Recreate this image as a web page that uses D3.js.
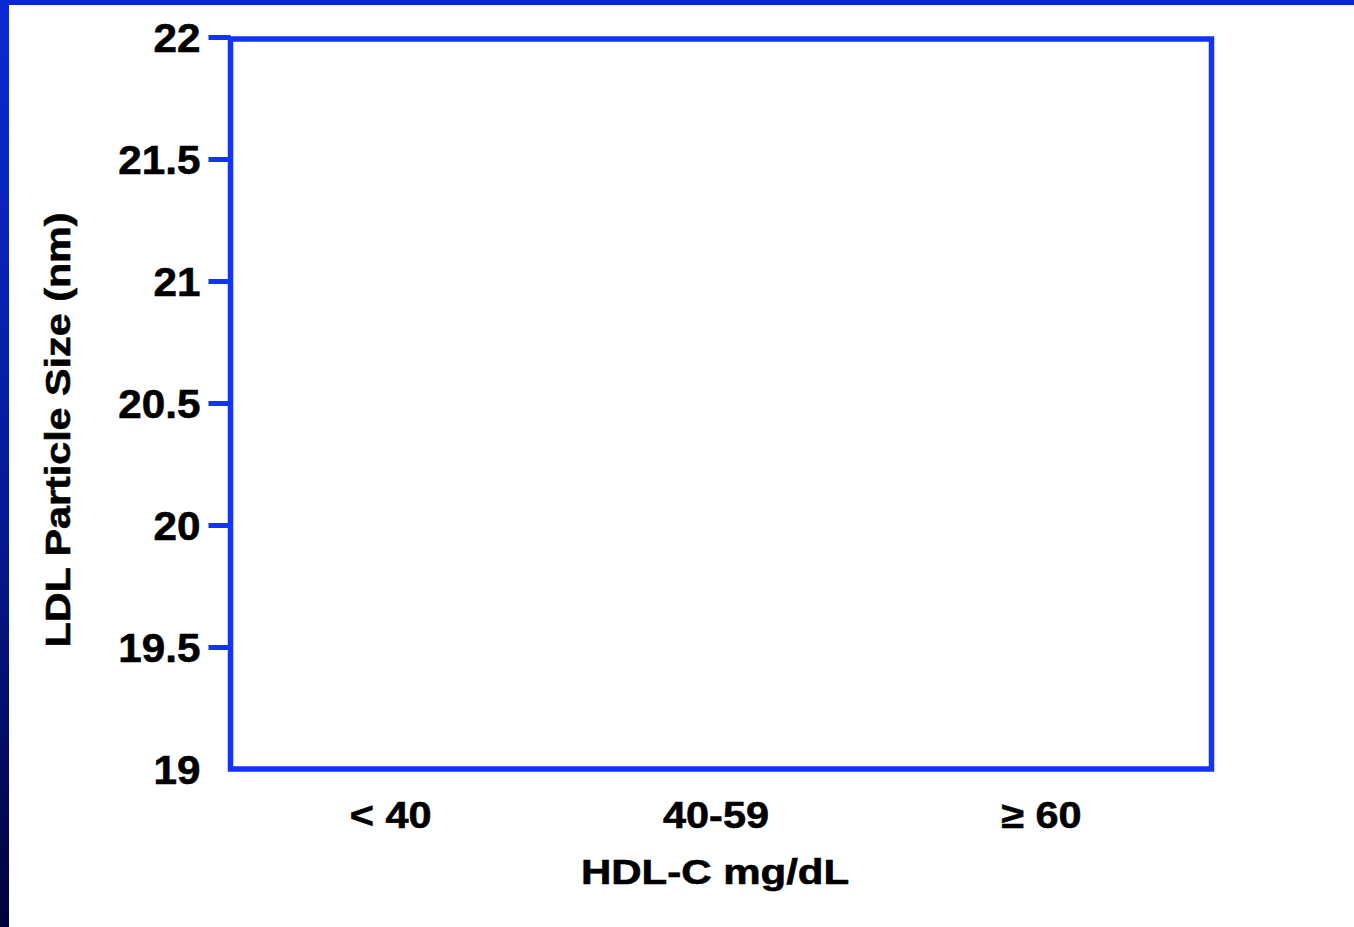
<!DOCTYPE html>
<html>
<head>
<meta charset="utf-8">
<script src="https://cdn.jsdelivr.net/npm/d3@7"></script>
<style>
html,body{margin:0;padding:0;background:#fff;}
svg{display:block;}
text{font-family:"Liberation Sans",Arial,Helvetica,sans-serif;font-weight:bold;fill:#000;stroke:#000;stroke-width:0.6px;}
</style>
</head>
<body>
<svg id="chart" width="1354" height="927"></svg>
<script>
const categories = ["< 40", "40-59", "\u2265 60"];
const yTicks = [19, 19.5, 20, 20.5, 21, 21.5, 22];
const yTickLabels = ["19", "19.5", "20", "20.5", "21", "21.5", "22"];
const yDomain = [19, 22];
const xTitle = "HDL-C mg/dL";
const yTitle = "LDL Particle Size (nm)";

const svg = d3.select("#chart");
const W = 1354, H = 927;
const frame = {left: 230.5, right: 1211.5, top: 39, bottom: 769};
const blue = "#1233ff";

// slide decoration
const defs = svg.append("defs");
const grad = defs.append("linearGradient").attr("id", "lg").attr("x1", 0).attr("y1", 0).attr("x2", 0).attr("y2", 1);
grad.append("stop").attr("offset", "0%").attr("stop-color", "#0a2ad6");
grad.append("stop").attr("offset", "55%").attr("stop-color", "#051a98");
grad.append("stop").attr("offset", "100%").attr("stop-color", "#00023a");
svg.append("rect").attr("x", 0).attr("y", 0).attr("width", W).attr("height", 5).attr("fill", "#0828d8");
svg.append("rect").attr("x", 0).attr("y", 0).attr("width", 9).attr("height", H).attr("fill", "url(#lg)");

const y = d3.scaleLinear().domain(yDomain).range([frame.bottom, 37]);
const x = d3.scaleBand().domain(categories).range([228, 1204]);

// y axis ticks
const yAxis = d3.axisLeft(y).tickValues(yTicks)
  .tickFormat((d, i) => yTickLabels[i]).tickSize(22).tickPadding(0).tickSizeOuter(0);
const gy = svg.append("g").attr("transform", `translate(${frame.left},0)`).call(yAxis);
gy.select(".domain").remove();
gy.selectAll(".tick line").attr("stroke", blue).attr("stroke-width", 5)
  .attr("display", d => d === yDomain[0] ? "none" : null);
gy.selectAll(".tick text").attr("font-size", 41).attr("fill", "#000")
  .attr("font-family", "'Liberation Sans', Arial, sans-serif").attr("font-weight", "bold")
  .attr("x", 0).attr("dy", "0.36em")
  .attr("transform", "translate(-30,0) scale(1.03,1)");

// x axis labels
const xAxis = d3.axisBottom(x).tickSize(0).tickPadding(0);
const gx = svg.append("g").attr("transform", `translate(0,${frame.bottom})`).call(xAxis);
gx.select(".domain").remove();
gx.selectAll(".tick text").attr("font-size", 37).attr("fill", "#000")
  .attr("font-family", "'Liberation Sans', Arial, sans-serif").attr("font-weight", "bold")
  .attr("dy", 0).attr("y", 0).attr("x", 0)
  .attr("transform", "translate(0,59) scale(1.12,1)");

// frame
svg.append("rect").attr("x", frame.left).attr("y", frame.top)
  .attr("width", frame.right - frame.left).attr("height", frame.bottom - frame.top)
  .attr("fill", "none").attr("stroke", blue).attr("stroke-width", 5.5);

// titles
svg.append("text").attr("text-anchor", "middle")
  .attr("transform", `translate(715,884) scale(1.2,1)`)
  .attr("font-size", 35).text(xTitle);
svg.append("text").attr("text-anchor", "middle")
  .attr("transform", `translate(70,430) rotate(-90) scale(1.18,1)`)
  .attr("font-size", 35).text(yTitle);
</script>
</body>
</html>
